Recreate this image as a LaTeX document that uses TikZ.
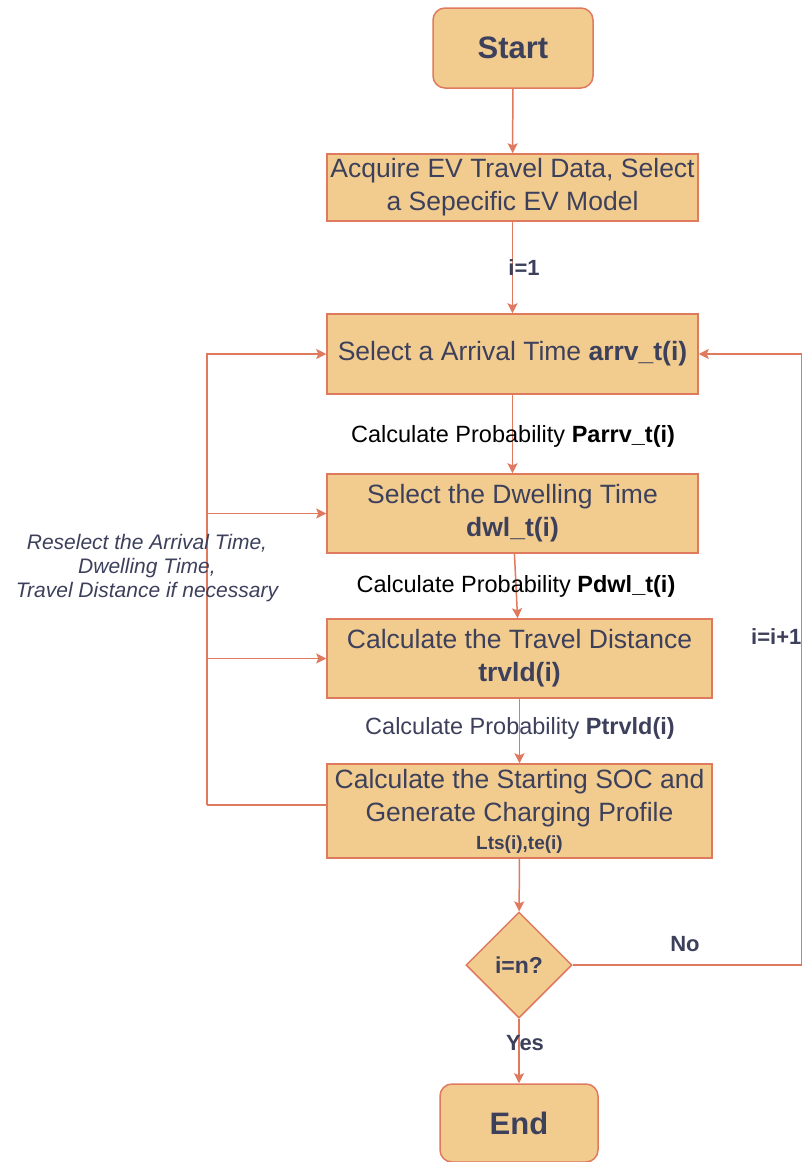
\documentclass[tikz,border=0pt]{standalone}
\usepackage{fontspec}
\setmainfont{Liberation Sans}
\usepackage{tikz}
\usetikzlibrary{arrows.meta}
\usetikzlibrary{shapes.geometric}

\definecolor{boxfill}{HTML}{F2CC8F}
\definecolor{boxline}{HTML}{E07A5F}
\definecolor{ink}{HTML}{3D405B}

\begin{document}
\begin{tikzpicture}[x=1pt,y=-1pt]
            \tikzstyle{term node}=[draw=boxline,fill=boxfill,line width=1.5pt,rounded corners=12pt,
                text=ink,font=\fontsize{31}{34}\selectfont\bfseries,inner sep=0pt]
            \tikzstyle{step node}=[draw=boxline,fill=boxfill,line width=1.5pt,align=center,
                text=ink,font=\fontsize{26.5}{33}\selectfont,inner sep=0pt]
            \tikzstyle{cond node}=[draw=boxline,fill=boxfill,line width=1.5pt,diamond,aspect=1,
                minimum width=106pt,minimum height=106pt,inner sep=0pt,
                text=ink,font=\fontsize{23}{26}\selectfont\bfseries]
            \tikzstyle{flow}=[draw=boxline,line width=1.5pt,-{Stealth[length=10pt,width=10pt,inset=2pt]}]
            \tikzstyle{plain flow}=[draw=boxline,line width=1.5pt]
            \tikzstyle{prob label}=[font=\fontsize{23.5}{26}\selectfont]
            \tikzstyle{loop label}=[text=ink,font=\fontsize{22}{24}\selectfont\bfseries]

            \useasboundingbox (0,0) rectangle (801,1162);

            \node[term node,minimum width=160pt,minimum height=80pt] (start) at (513,48) {Start};
            \node[step node,minimum width=371pt,minimum height=67pt] (acq) at (512.5,187.5)
                {Acquire EV Travel Data, Select\\a Sepecific EV Model};
            \node[step node,minimum width=371pt,minimum height=80pt] (sel) at (512.5,354)
                {Select a Arrival Time \textbf{arrv\_t(i)}};
            \node[step node,minimum width=371pt,minimum height=79pt] (dwl) at (512.5,513.5)
                {Select the Dwelling Time\\\textbf{dwl\_t(i)}};
            \node[step node,minimum width=385pt,minimum height=79pt] (trv) at (519.5,658.5)
                {Calculate the Travel Distance\\\textbf{trvld(i)}};
            \node[step node,minimum width=385pt,minimum height=94pt] (soc) at (519.5,811)
                {Calculate the Starting SOC and\\Generate Charging Profile\\[-5pt]
                 {\fontsize{19}{22}\selectfont\bfseries Lts(i),te(i)}};
            \node[cond node] (dec) at (519,965) {i=n?};
            \node[term node,minimum width=158pt,minimum height=78pt] (end) at (519,1123) {End};

            % main chain
            \draw[flow] (start) -- (acq);
            \draw[flow] (acq) -- (sel);
            \draw[flow] (sel) -- (dwl);
            \draw[flow] (dwl) -- (trv);
            \draw[flow] (trv) -- (soc);
            \draw[flow] (soc) -- (dec);
            \draw[flow] (dec) -- (end);

            % reselect loop
            \coordinate (lft) at (207,805);
            \draw[plain flow] ([yshift=6pt]soc.west) -- (lft);
            \draw[flow] (lft) |- (sel.west);
            \draw[flow] (lft |- dwl.west) -- (dwl.west);
            \draw[flow] (lft |- trv.west) -- (trv.west);

            % next vehicle loop
            \coordinate (rgt) at (801.5,965);
            \draw[plain flow] (dec.east) -- (rgt);
            \draw[flow] (rgt) |- (sel.east);

            \node[loop label] (ione) at (524,268) {i=1};
            \node[prob label] (parrv) at (513,436) {Calculate Probability \textbf{Parrv\_t(i)}};
            \node[prob label] (pdwl) at (516,586) {Calculate Probability \textbf{Pdwl\_t(i)}};
            \node[prob label,text=ink] (ptrv) at (520,728) {Calculate Probability \textbf{Ptrvld(i)}};
            \node[loop label,anchor=west,inner sep=0pt] (inext) at (751,637) {i=i+1};
            \node[loop label] (no) at (685,944) {No};
            \node[loop label] (yes) at (525,1043) {Yes};
            \node[text=ink,align=center,font=\fontsize{21}{24}\selectfont\itshape] (resel) at (147,568)
                {Reselect the Arrival Time,\\Dwelling Time,\\Travel Distance if necessary};
        \end{tikzpicture}
\end{document}
